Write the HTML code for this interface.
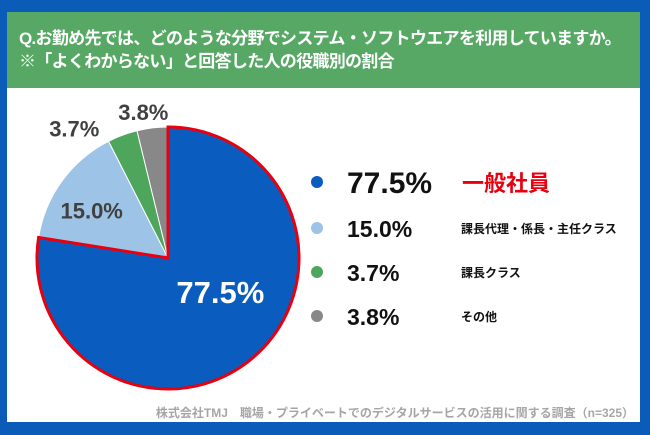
<!DOCTYPE html>
<html><head><meta charset="utf-8"><style>
body{margin:0;width:650px;height:435px;overflow:hidden;background:#0a5cb8;font-family:"Liberation Sans","Noto Sans CJK JP",sans-serif}
#frame{position:absolute;left:7px;top:12px;width:633px;height:410px;background:#fff}
#hdr{position:absolute;left:0;top:0;width:633px;height:76px;background:#57a865;color:#fff;font-weight:bold;font-size:17px;line-height:23px;padding:15px 0 0 12px;box-sizing:border-box;white-space:nowrap;letter-spacing:-0.7px}
svg{position:absolute;left:0;top:0}
</style></head><body>
<div id="frame">
<div id="hdr">Q.お勤め先では、どのような分野でシステム・ソフトウエアを利用していますか。<br>※「よくわからない」と回答した人の役職別の割合</div>
</div>
<svg id="c" width="650" height="435"></svg>
<script>
const categories=["一般社員","課長代理・係長・主任クラス","課長クラス","その他"];
const values=[77.5,15.0,3.7,3.8];
const labels=["77.5%","15.0%","3.7%","3.8%"];
const colors=["#0a5cbf","#9dc3e6","#4ea65d","#888888"];
const NS="http://www.w3.org/2000/svg",svg=document.getElementById('c');
function mk(t,a){const e=document.createElementNS(NS,t);for(const k in a)e.setAttribute(k,a[k]);svg.appendChild(e);return e;}
const cx=168,cy=258,r=131,total=values.reduce((a,b)=>a+b,0);
function pt(f,rr){const a=f*2*Math.PI;return [cx+rr*Math.sin(a),cy-rr*Math.cos(a)];}
let acc=0;const mids=[];
values.forEach((v,i)=>{const f0=acc/total,f1=(acc+v)/total;acc+=v;mids.push((f0+f1)/2);
 const p0=pt(f0,r),p1=pt(f1,r),large=(f1-f0)>0.5?1:0;
 const p=mk('path',{d:`M${cx},${cy}L${p0[0]},${p0[1]}A${r},${r} 0 ${large} 1 ${p1[0]},${p1[1]}Z`,fill:colors[i],stroke:'#fff','stroke-width':1});
 
 
});
(function(){const p0=pt(0,r),p1=pt(values[0]/total,r);const o=mk('path',{d:`M${cx},${cy}L${p0[0]},${p0[1]}A${r},${r} 0 ${values[0]/total>0.5?1:0} 1 ${p1[0]},${p1[1]}Z`,fill:'none',stroke:'#e8000f','stroke-width':3});

})();
values.forEach((v,i)=>{let x,y,fill='#404040',fs=22;
 if(i===0){const q=pt(mids[i],r*0.58);x=q[0]+3;y=q[1]-13;fill='#fff';fs=31;}
 else if(i===1){const q=pt(mids[i],r*0.72);x=q[0];y=q[1]+16;}
 else if(i===2){const q=pt(mids[i],r*1.07);x=q[0]-45;y=q[1]+10;}
 else {const q=pt(mids[i],r*1.07);x=q[0]-8;y=q[1]+1;}
 const t=mk('text',{x:x,y:y,'text-anchor':'middle','font-size':fs,'font-weight':'bold',fill:fill});t.textContent=labels[i];
 
 
});
const ly=[182,228,272,316];
values.forEach((v,i)=>{
 const d=mk('circle',{cx:317,cy:ly[i],r:6,fill:colors[i]});
 
 
 const t=mk('text',{x:347,y:ly[i]+(i===0?11:9),'font-size':i===0?30:23,'font-weight':'bold',fill:'#111'});t.textContent=labels[i];
 
 
 const c=mk('text',{x:i===0?462:461,y:ly[i]+(i===0?9:5),'font-size':i===0?22:12,'font-weight':'bold',fill:i===0?'#e8000f':'#111'});c.textContent=categories[i];
 
 
});
const f=mk('text',{x:634,y:417,'text-anchor':'end','font-size':12,'font-weight':'bold',fill:'#a6a6a6'});f.textContent='株式会社TMJ　職場・プライベートでのデジタルサービスの活用に関する調査（n=325）';


</script>
</body></html>
